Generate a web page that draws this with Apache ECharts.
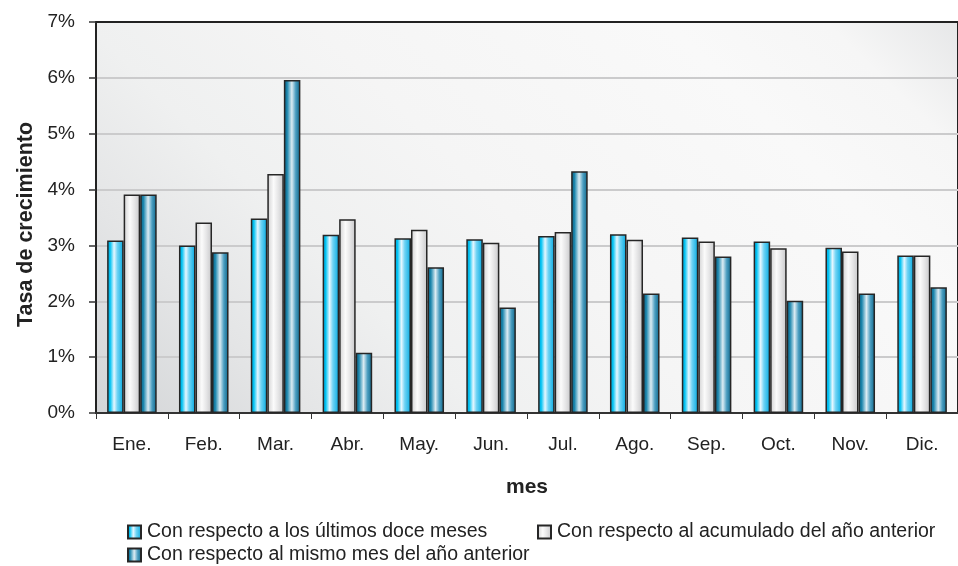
<!DOCTYPE html>
<html>
<head>
<meta charset="utf-8">
<script src="https://cdn.jsdelivr.net/npm/echarts@6/dist/echarts.min.js"></script>
<style>
html,body{margin:0;padding:0;background:#fff;}
#chart{width:958px;height:566px;}
</style>
</head>
<body>
<div id="chart"></div>
<script>
const categories = ['Ene.', 'Feb.', 'Mar.', 'Abr.', 'May.', 'Jun.', 'Jul.', 'Ago.', 'Sep.', 'Oct.', 'Nov.', 'Dic.'];
const seriesNames = [
  'Con respecto a los últimos doce meses',
  'Con respecto al acumulado del año anterior',
  'Con respecto al mismo mes del año anterior'
];
const ultimosDoce = [3.09, 3.00, 3.48, 3.19, 3.13, 3.11, 3.17, 3.20, 3.14, 3.07, 2.96, 2.82];
const acumulado   = [3.91, 3.41, 4.28, 3.47, 3.28, 3.05, 3.24, 3.10, 3.07, 2.95, 2.89, 2.82];
const mismoMes    = [3.91, 2.88, 5.96, 1.08, 2.61, 1.89, 4.33, 2.14, 2.80, 2.01, 2.14, 2.25];
const yTicks = [0, 1, 2, 3, 4, 5, 6, 7];

const FONT = "'Liberation Sans', Arial, sans-serif";

function hGrad(stops) {
  return { type: 'linear', x: 0, y: 0, x2: 1, y2: 0,
    colorStops: stops.map(s => ({ offset: s[0], color: s[1] })) };
}
const fillCyan = hGrad([[0, '#0a9fd2'], [0.18, '#00c2f2'], [0.42, '#e6f7ff'], [0.62, '#6fd3f4'], [1, '#00a8e0']]);
const fillGrey = hGrad([[0, '#cfcfd0'], [0.38, '#fbfbfb'], [0.65, '#e6e6e7'], [1, '#c6c6c8']]);
const fillDark = hGrad([[0, '#0b5a7a'], [0.2, '#1b86ad'], [0.48, '#dcecf3'], [0.72, '#4a9dc0'], [1, '#0b6488']]);

const chart = echarts.init(document.getElementById('chart'), null, { renderer: 'canvas' });

function barSeries(name, data, fill) {
  return {
    name: name, type: 'bar', data: data,
    barGap: '0%', barCategoryGap: '31%',
    itemStyle: { color: fill, borderColor: '#262626', borderWidth: 1.5 },
    emphasis: { disabled: true }
  };
}

function legendAt(name, left, top) {
  return {
    data: [name], left: left, top: top, padding: 0,
    icon: 'rect', itemWidth: 13, itemHeight: 13, itemGap: 0,
    textStyle: { fontFamily: FONT, fontSize: 19.5, color: '#222', padding: [0, 0, 0, 1] },
    selectedMode: false
  };
}

chart.setOption({
  animation: false,
  backgroundColor: '#ffffff',
  grid: {
    left: 96, top: 22, width: 870, height: 391,
    show: true,
    borderColor: '#222', borderWidth: 2,
    backgroundColor: {
      type: 'linear', x: 0, y: 1, x2: 1, y2: -1.25,
      colorStops: [
        { offset: 0, color: '#d3d5d7' },
        { offset: 0.12, color: '#e4e5e6' },
        { offset: 0.22, color: '#eff0f0' },
        { offset: 0.35, color: '#f5f5f5' },
        { offset: 0.55, color: '#f9f9f9' },
        { offset: 0.64, color: '#f6f6f6' },
        { offset: 0.72, color: '#e5e6e7' }
      ]
    }
  },
  legend: [
    legendAt(seriesNames[0], 127, 522),
    legendAt(seriesNames[1], 537, 522),
    legendAt(seriesNames[2], 127, 545)
  ],
  xAxis: [{
    type: 'category', data: categories,
    name: 'mes', nameLocation: 'middle', nameGap: 64,
    nameTextStyle: { fontFamily: FONT, fontSize: 21, fontWeight: 'bold', color: '#222' },
    axisLine: { lineStyle: { color: '#333', width: 2 } },
    axisTick: { show: true, length: 6, lineStyle: { color: '#333', width: 1 } },
    axisLabel: { fontFamily: FONT, fontSize: 19, color: '#222', margin: 22 }
  }, {
    type: 'category', data: categories, position: 'top',
    axisLine: { show: true, lineStyle: { color: '#222', width: 2 } },
    axisTick: { show: false }, axisLabel: { show: false }, splitLine: { show: false }
  }],
  yAxis: {
    type: 'value', min: yTicks[0], max: yTicks[yTicks.length - 1], interval: 1,
    name: 'Tasa de crecimiento', nameLocation: 'middle', nameGap: 57, nameRotate: 90,
    nameTextStyle: { fontFamily: FONT, fontSize: 21.5, fontWeight: 'bold', color: '#222', padding: [0, 14, 0, 0] },
    axisLine: { show: true, lineStyle: { color: '#222', width: 2 } },
    axisTick: { show: true, length: 7, lineStyle: { color: '#333', width: 1.5 } },
    axisLabel: { fontFamily: FONT, fontSize: 19, color: '#222', margin: 21, formatter: '{value}%' },
    splitLine: { show: true, lineStyle: { color: '#cbcbcc', width: 2 } }
  },
  series: [
    barSeries(seriesNames[0], ultimosDoce, fillCyan),
    barSeries(seriesNames[1], acumulado, fillGrey),
    barSeries(seriesNames[2], mismoMes, fillDark)
  ]
});
</script>
</body>
</html>
